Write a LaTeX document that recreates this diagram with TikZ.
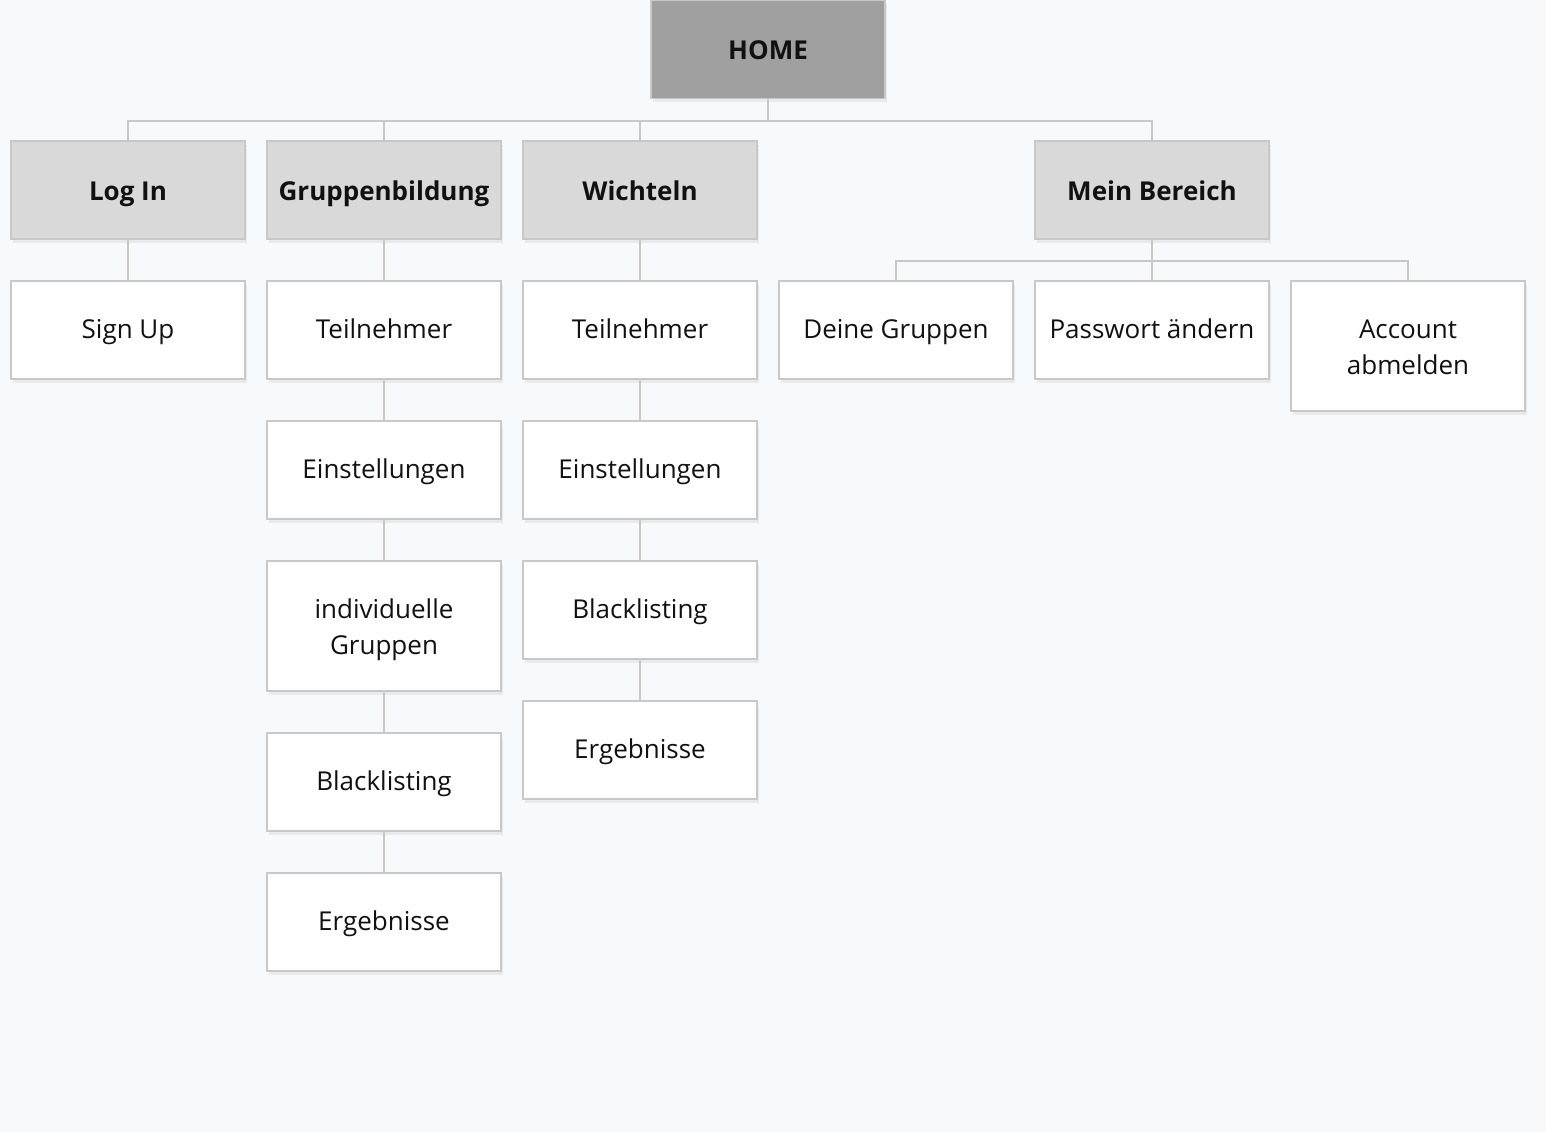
\documentclass[tikz,border=0pt]{standalone}
\usepackage{fontspec}
\setmainfont{Open Sans}
\usetikzlibrary{shadows}

\definecolor{pagebg}{HTML}{F8F9FA}
\definecolor{boxline}{HTML}{C8C8C8}
\definecolor{homefill}{HTML}{A0A0A0}
\definecolor{topfill}{HTML}{D9D9D9}
\definecolor{txt}{HTML}{111111}

\newcommand\topstrut{\rule{0pt}{1.05em}}
\newcommand\botstrut{\rule[-0.23em]{0pt}{0.23em}}

\begin{document}
\begin{tikzpicture}[x=0.02cm, y=-0.02cm,
	page/.style={draw=boxline, line width=1.1pt, minimum width=4.68cm,
		minimum height=1.96cm, inner sep=2pt, align=center, text=txt,
		font=\fontsize{14.8}{20.5}\selectfont,
		drop shadow={opacity=0.12, shadow xshift=1pt, shadow yshift=-2pt}},
	homepage/.style={page, text height=1.35em, text depth=0.17em, fill=homefill,
		font=\fontsize{14.8}{20.5}\selectfont\bfseries},
	mainpage/.style={page, text height=1.33em, text depth=0.17em, fill=topfill,
		font=\fontsize{14.8}{20.5}\selectfont\bfseries},
	subpage/.style={page, text height=1.2em, text depth=0.21em, fill=white},
	tallpage/.style={page, fill=white, minimum height=2.6cm},
	link/.style={draw=boxline, line width=1.1pt}]

	% background and page size
	\fill[pagebg] (0,0) rectangle (1546,1132);
	\useasboundingbox (0,0) rectangle (1546,1132);

	% root
	\node[homepage] (home) at (768,49.5) {HOME};

	% main sections
	\node[mainpage] (login) at (128,190) {Log In};
	\node[mainpage] (grupp) at (384,190) {Gruppenbildung};
	\node[mainpage] (wicht) at (640,190) {Wichteln};
	\node[mainpage] (meinb) at (1152,190) {Mein Bereich};

	% Log In
	\node[subpage] (signup) at (128,330) {Sign Up};

	% Gruppenbildung
	\node[subpage] (gteil) at (384,330) {Teilnehmer};
	\node[subpage] (geinst) at (384,470) {Einstellungen};
	\node[tallpage] (gindiv) at (384,626) {\topstrut individuelle\\Gruppen\botstrut};
	\node[subpage] (gblack) at (384,782) {Blacklisting};
	\node[subpage] (gerg) at (384,922) {Ergebnisse};

	% Wichteln
	\node[subpage] (wteil) at (640,330) {Teilnehmer};
	\node[subpage] (weinst) at (640,470) {Einstellungen};
	\node[subpage] (wblack) at (640,610) {Blacklisting};
	\node[subpage] (werg) at (640,750) {Ergebnisse};

	% Mein Bereich
	\node[subpage] (deine) at (896,330) {Deine Gruppen};
	\node[subpage] (passw) at (1152,330) {Passwort ändern};
	\node[tallpage] (account) at (1408,346) {\topstrut Account\\abmelden\botstrut};

	% connectors
	\coordinate (bus) at (768,121);
	\coordinate (mbus) at (1152,261);

	\draw[link] (home.south) -- (bus);
	\draw[link] (login.north) -- (login.north |- bus) -| (meinb.north);
	\draw[link] (grupp.north) -- (grupp.north |- bus);
	\draw[link] (wicht.north) -- (wicht.north |- bus);

	\draw[link] (login.south) -- (signup.north);

	\draw[link] (grupp.south) -- (gteil.north);
	\draw[link] (gteil.south) -- (geinst.north);
	\draw[link] (geinst.south) -- (gindiv.north);
	\draw[link] (gindiv.south) -- (gblack.north);
	\draw[link] (gblack.south) -- (gerg.north);

	\draw[link] (wicht.south) -- (wteil.north);
	\draw[link] (wteil.south) -- (weinst.north);
	\draw[link] (weinst.south) -- (wblack.north);
	\draw[link] (wblack.south) -- (werg.north);

	\draw[link] (meinb.south) -- (mbus);
	\draw[link] (deine.north) -- (deine.north |- mbus) -| (account.north);
	\draw[link] (passw.north) -- (mbus);

\end{tikzpicture}
\end{document}
